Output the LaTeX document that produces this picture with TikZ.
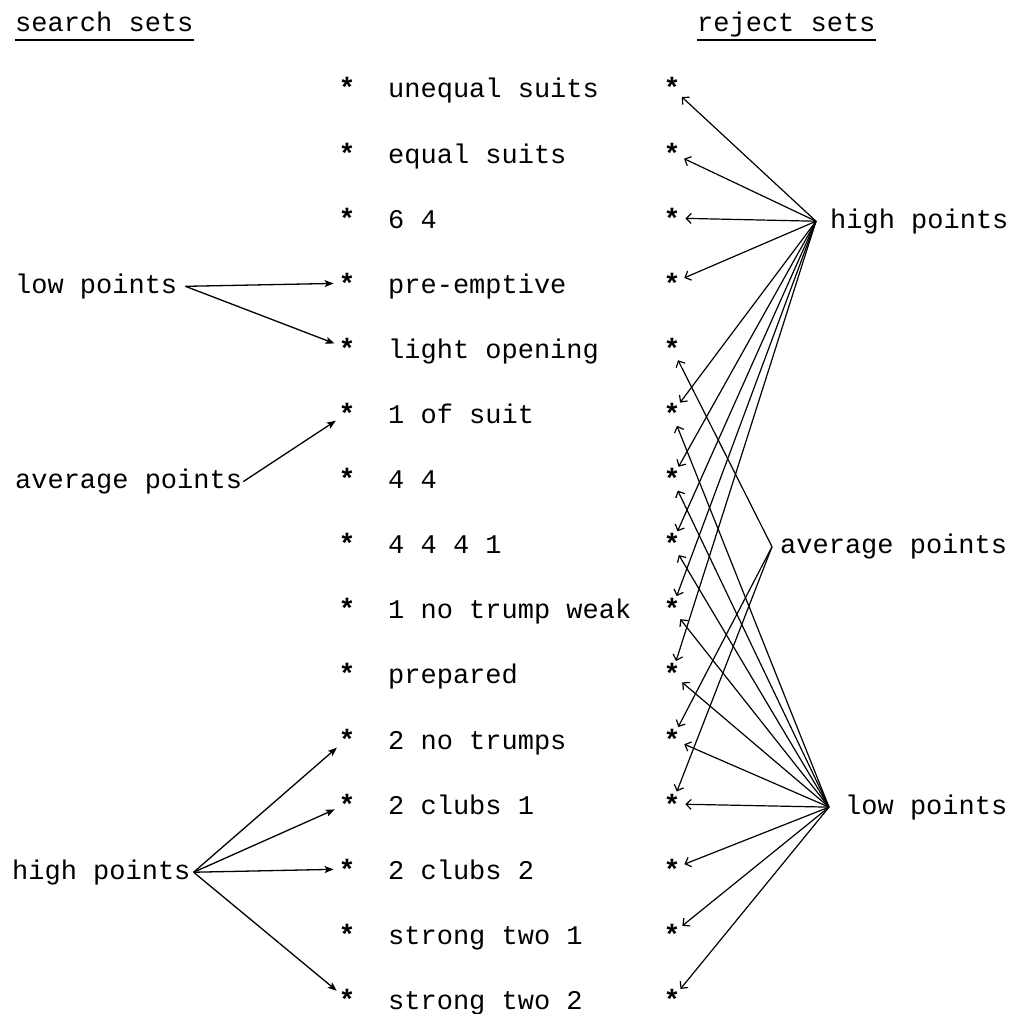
\documentclass[tikz,border=0pt]{standalone}
\usepackage{fontspec}
\setmonofont{Liberation Mono}
\usetikzlibrary{arrows.meta}
\begin{document}
\begin{tikzpicture}[x=1pt,y=-1pt,
  txt/.style={font=\ttfamily\fontsize{27}{30}\selectfont, inner sep=0pt, anchor=base west},
  ast/.style={font=\ttfamily\bfseries\fontsize{28}{30}\selectfont, circle, inner sep=0pt, anchor=base},
  connL/.style={-{Stealth[length=9pt,width=7pt,inset=2pt]}, line width=1.3pt},
  connR/.style={-{Straight Barb[length=5pt,width=10pt]}, line width=1.2pt},
  uline/.style={line width=1.4pt}
]
\useasboundingbox (0,0) rectangle (1010,1014);
\fill[white] (0,0) rectangle (1010,1014);

% headers
\node[txt] (hs) at (15,32) {search sets};
\node[txt] (hr) at (697,32) {reject sets};
\draw[uline] ([yshift=-8pt]hs.base west) -- ([yshift=-8pt]hs.base east);
\draw[uline] ([yshift=-8pt]hr.base west) -- ([yshift=-8pt]hr.base east);

% rows
\foreach \i/\t in {1/unequal suits, 2/equal suits, 3/6 4, 4/pre-emptive,
  5/light opening, 6/1 of suit, 7/4 4, 8/4 4 4 1, 9/1 no trump weak,
  10/prepared, 11/2 no trumps, 12/2 clubs 1, 13/2 clubs 2,
  14/strong two 1, 15/strong two 2} {
  \pgfmathsetmacro\yb{98+65.1*(\i-1)}
  \node[ast] (m\i) at (347,\yb) {*};
  \node[txt] (t\i) at (388,\yb) {\t};
  \node[ast] (r\i) at (672,\yb) {*};
}

% left labels
\node[txt, inner xsep=8pt] (lpL) at (7,293.3) {low points};
\node[txt, inner xsep=1pt] (avL) at (14,488.6) {average points};
\node[txt, inner xsep=3pt] (hpL) at (9,879.2) {high points};

% right labels
\node[txt, inner xsep=14pt] (hpR) at (816,228.2) {high points};
\node[txt, inner xsep=8pt] (avR) at (772,553.7) {average points};
\node[txt, inner xsep=16pt] (lpR) at (829,814.1) {low points};

% left connectors
\foreach \k in {4,5} \draw[connL] (lpL.east) -- (m\k);
\draw[connL] (avL.east) -- (m6);
\foreach \k in {11,12,13,15} \draw[connL] (hpL.east) -- (m\k);

% right connectors
\foreach \k in {1,2,3,4,6,7,8,9,10} \draw[connR] (hpR.west) -- (r\k);
\foreach \k in {5,11,12} \draw[connR] (avR.west) -- (r\k);
\foreach \k in {6,7,8,9,10,11,12,13,14,15} \draw[connR] (lpR.west) -- (r\k);
\end{tikzpicture}
\end{document}
